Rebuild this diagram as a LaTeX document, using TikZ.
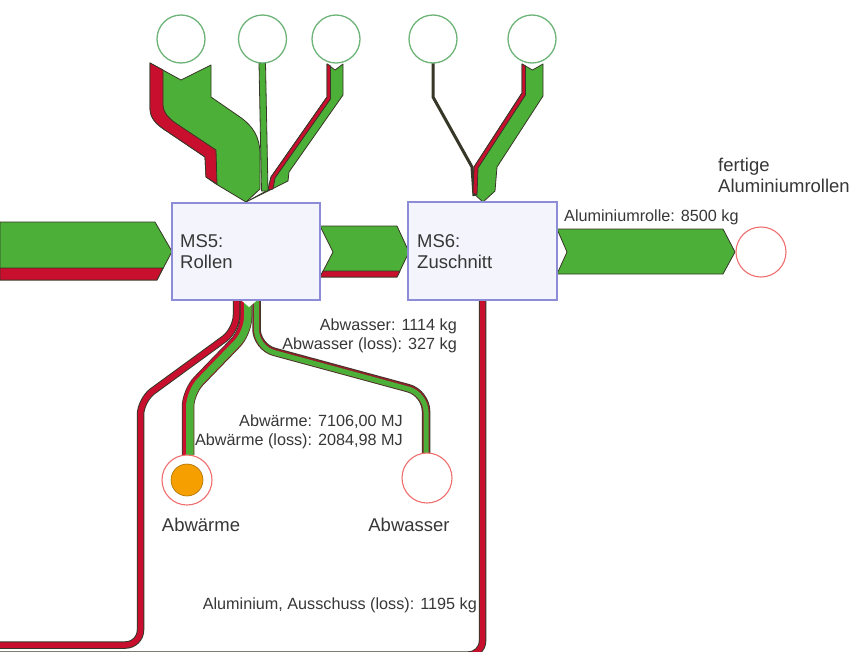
\documentclass[tikz,border=0pt]{standalone}
\usepackage{fontspec}
\setmainfont{Liberation Sans}
\definecolor{sgreen}{RGB}{76,175,55}
\definecolor{sred}{RGB}{200,16,46}
\definecolor{sdark}{RGB}{55,55,40}
\definecolor{cgreen}{RGB}{110,180,120}
\definecolor{cpink}{RGB}{240,110,110}
\definecolor{boxblue}{RGB}{140,140,215}
\definecolor{boxfill}{RGB}{244,244,252}
\definecolor{corange}{RGB}{245,160,0}
\definecolor{txt}{RGB}{55,55,55}
\begin{document}
\begin{tikzpicture}[x=1pt,y=-1pt,
  flowg/.style={fill=sgreen, draw=sdark, line width=0.8pt, line join=round},
  flowr/.style={fill=sred, draw=sdark, line width=0.8pt, line join=round},
  srccirc/.style={circle, draw=cgreen, fill=white, line width=1.3pt, minimum size=48pt, inner sep=0pt},
  sinkcirc/.style={circle, draw=cpink, fill=white, line width=1.1pt, minimum size=50pt, inner sep=0pt},
  procbox/.style={draw=boxblue, fill=boxfill, line width=1.2pt, inner sep=0pt},
  lbl/.style={font=\fontsize{16.2}{18}\selectfont, text=txt, inner sep=0pt},
  biglbl/.style={font=\fontsize{18.5}{21}\selectfont, text=txt, inner sep=0pt, align=left},
  redpipe/.style={draw=sred, line width=5.5pt, preaction={draw=sdark, line width=7.5pt}}
]
\useasboundingbox (0,0) rectangle (856,651);
\clip (0,0) rectangle (856,651);
\fill[white] (0,0) rectangle (856,651);

% ---- outgoing flows below the boxes ----
\draw[redpipe, rounded corners=14pt] (482.5,300) -- (482.5,655) -- (0,655);
\draw[redpipe, rounded corners=15pt] (236.5,300) -- (236.5,330) -- (140.5,400) -- (140.5,645) -- (0,645);
% Abwaerme flow
\draw[draw=sred, line width=11pt, preaction={draw=sdark, line width=12.5pt}, rounded corners=15pt]
  (246,300) -- (246,332) -- (188,392) -- (188,455);
\draw[draw=sgreen, line width=7.5pt, xshift=1.75pt, rounded corners=15pt]
  (246,300) -- (246,332) -- (188,392) -- (188,455);
% Abwasser flow
\draw[draw=sred!60!sdark, line width=7pt, preaction={draw=sdark, line width=8.5pt}, rounded corners=18pt]
  (256.5,300) -- (256.5,347) -- (426,393) -- (426,456);
\draw[draw=sgreen, line width=5pt, yshift=-0.8pt, rounded corners=18pt]
  (256.5,300) -- (256.5,347) -- (426,393) -- (426,456);
\fill[white] (241,300) -- (257.5,300) -- (249,307) -- cycle;

% ---- incoming flows into MS5 from the top ----
\filldraw[flowg] (150,63) -- (181,80) -- (211,65) -- (211,97) -- (240,117)
  .. controls (254,127) and (259,137) .. (260,152) -- (260,189) -- (246,202) -- (216,184)
  -- (206,177) -- (205,157) -- (168,132) .. controls (157,125) and (150,119) .. (150,108) -- cycle;
\filldraw[flowr] (150,63) -- (163,70) -- (163,104) .. controls (163,113) and (169,119) .. (180,126)
  -- (216,150) -- (217,184) -- (206,177) -- (205,157) -- (168,132)
  .. controls (157,125) and (150,119) .. (150,108) -- cycle;
\filldraw[flowg] (327,64) -- (335,70) -- (343,64) -- (343,95) -- (289,172) -- (288,181) -- (246,202)
  -- (268,190) -- (271,177) -- (327,97) -- cycle;
\filldraw[flowr] (327,64) -- (330.5,66) -- (330.5,99) -- (275,178) -- (273,189) -- (268,190)
  -- (271,177) -- (327,97) -- cycle;
\filldraw[flowg] (259,63) -- (265.5,63) -- (268,191) -- (261.5,191) -- cycle;

% ---- incoming flows into MS6 from the top ----
\draw[sdark, line width=3pt, line join=round] (433,63) -- (433,97) -- (472,167) -- (474,196);
\filldraw[flowg] (522,64) -- (532.5,70) -- (543,64) -- (543,96) -- (497,167) -- (495,191) -- (483,202)
  -- (473,193) -- (474,167) -- (522,93) -- cycle;
\filldraw[flowr] (522,64) -- (525.5,66) -- (525.5,95) -- (478,168) -- (477,195) -- (473,193)
  -- (474,167) -- (522,93) -- cycle;

% ---- horizontal flows ----
\filldraw[flowg] (0,222) -- (155,222) -- (172,251.5) -- (157,280) -- (0,280) -- cycle;
\filldraw[flowr] (0,268) -- (163,268) -- (157,280) -- (0,280) -- cycle;
\filldraw[flowg] (320,226) -- (397,226) -- (409,252) -- (397,277) -- (320,277) -- (333,252) -- cycle;
\filldraw[flowr] (323,271) -- (400,271) -- (397,277) -- (320,277) -- cycle;
\filldraw[flowg] (557,229) -- (723,229) -- (735,252) -- (723,274) -- (557,274) -- (567,252) -- cycle;

% ---- process boxes ----
\node[procbox, minimum width=148pt, minimum height=97pt] (ms5) at (246,251.5) {};
\node[biglbl, anchor=west] (ms5t) at (180,251.5) {MS5:\\Rollen};
\node[procbox, minimum width=149pt, minimum height=98pt] (ms6) at (482.5,251) {};
\node[biglbl, anchor=west] (ms6t) at (417,252) {MS6:\\Zuschnitt};

% ---- source circles ----
\node[srccirc] (s1) at (181,39) {};
\node[srccirc] (s2) at (262.5,39) {};
\node[srccirc] (s3) at (336,39) {};
\node[srccirc] (s4) at (433,39) {};
\node[srccirc] (s5) at (532,39) {};

% ---- sink circles ----
\node[sinkcirc] (out) at (761,252) {};
\node[sinkcirc] (abw) at (187,480) {};
\node[circle, fill=corange, draw=corange!70!black, line width=0.6pt, minimum size=32pt, inner sep=0pt] (abwin) at (187,480) {};
\node[sinkcirc] (abwa) at (427,478) {};

% ---- labels ----
\node[lbl, anchor=west] (l1) at (564,217) {Aluminiumrolle: 8500 kg};
\node[biglbl, anchor=west] (l2) at (718,175) {fertige\\Aluminiumrollen};
\node[lbl, anchor=east] (l3) at (457,326) {Abwasser: 1114 kg};
\node[lbl, anchor=east] (l4) at (457,345) {Abwasser (loss): 327 kg};
\node[lbl, anchor=east] (l5) at (403,422) {Abwärme: 7106,00 MJ};
\node[lbl, anchor=east] (l6) at (403,441) {Abwärme (loss): 2084,98 MJ};
\node[biglbl] (l7) at (201,525) {Abwärme};
\node[biglbl] (l8) at (409,525) {Abwasser};
\node[lbl, anchor=east] (l9) at (477,605) {Aluminium, Ausschuss (loss): 1195 kg};
\end{tikzpicture}
\end{document}
